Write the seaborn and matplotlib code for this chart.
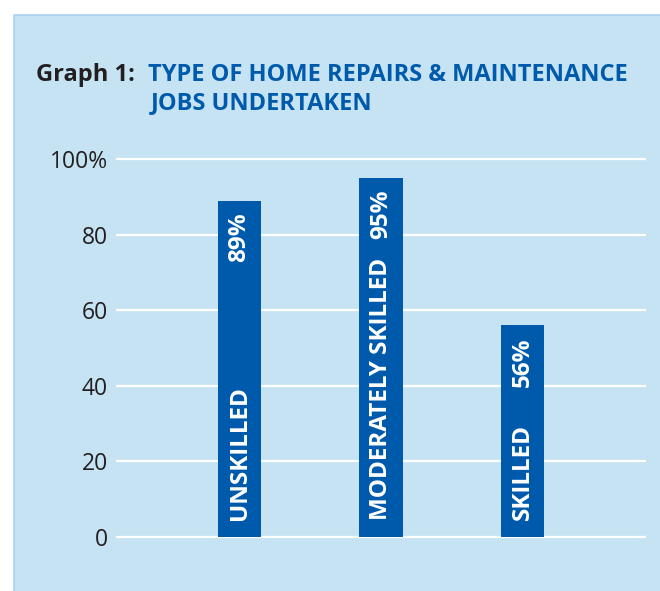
import numpy as np
import matplotlib
matplotlib.use("Agg")
import matplotlib.pyplot as plt
from matplotlib.patches import Rectangle
import seaborn as sns

# data
categories = ["UNSKILLED", "MODERATELY SKILLED", "SKILLED"]
values = [89, 95, 56]
yticks = [0, 20, 40, 60, 80, 100]
ytick_labels = ["0", "20", "40", "60", "80", "100%"]

panel_blue = "#c5e3f3"
bar_blue = "#005aab"
text_dark = "#231f20"

sns.set_style("white")
plt.rcParams["font.family"] = ["Open Sans", "DejaVu Sans"]

fig = plt.figure(figsize=(6.6, 5.91), dpi=100)
fig.patch.set_facecolor("white")

# light blue panel behind the chart
panel = Rectangle((14 / 660, -0.01), 1, 1.01 - 15 / 591, transform=fig.transFigure,
                  facecolor=panel_blue, edgecolor="#a8d3ee", linewidth=1.2, zorder=-10)
fig.add_artist(panel)

ax = fig.add_axes([116 / 660, (591 - 540.8) / 591, 530 / 660, 385.6 / 591])
ax.set_zorder(2)
ax.set_facecolor("none")

sns.barplot(x=categories, y=values, color=bar_blue, saturation=1, width=0.304,
            linewidth=0, ax=ax, zorder=3)

ax.set_xlim(-0.873, 2.873)
ax.set_ylim(-1, 101)
ax.set_yticks(yticks)
ax.set_yticklabels(ytick_labels, fontsize=16.5, color=text_dark)
ax.set_xticks([])
ax.set_xlabel("")
ax.set_ylabel("")
ax.tick_params(axis="y", length=0, pad=6)
ax.grid(axis="y", color="white", linewidth=1.6, zorder=1)
ax.set_axisbelow(True)
sns.despine(ax=ax, left=True, bottom=True)

for i, (cat, v) in enumerate(zip(categories, values)):
    ax.text(i, 4.5, cat, rotation=90, ha="center", va="bottom", color="white",
            fontsize=17.5, fontweight="bold", zorder=4)
    ax.text(i, v - 3.2, f"{v}%", rotation=90, ha="center", va="top", color="white",
            fontsize=17.5, fontweight="bold", zorder=4)

fig.text(36 / 660, 1 - 75 / 591, "Graph 1:", ha="left", va="center",
         fontsize=17, fontweight="bold", color=text_dark, zorder=3)
fig.text(148 / 660, 1 - 75 / 591, "TYPE OF HOME REPAIRS & MAINTENANCE", ha="left",
         va="center", fontsize=17, fontweight="bold", color=bar_blue, zorder=3)
fig.text(151 / 660, 1 - 103 / 591, "JOBS UNDERTAKEN", ha="left",
         va="center", fontsize=17, fontweight="bold", color=bar_blue, zorder=3)

fig.savefig("out.png", dpi=100)
